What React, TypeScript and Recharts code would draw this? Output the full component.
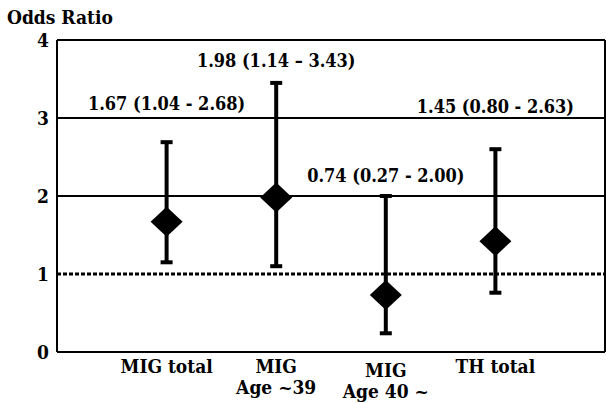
import React from "react"
import {
  ScatterChart,
  Scatter,
  XAxis,
  YAxis,
  ErrorBar,
  ReferenceLine,
} from "recharts"

// values
const categories = ["MIG total", "MIG\nAge ~39", "MIG\nAge 40 ~", "TH total"]
const oddsRatio = [1.67, 1.98, 0.73, 1.42]
const ciLow = [1.15, 1.1, 0.24, 0.76]
const ciHigh = [2.69, 3.45, 2.0, 2.6]
const ciText = [
  "1.67 (1.04 - 2.68)",
  "1.98 (1.14 – 3.43)",
  "0.74 (0.27 - 2.00)",
  "1.45 (0.80 - 2.63)",
]
const labelAt = [3.18, 3.74, 2.26, 3.15]
const yTicks = [0, 1, 2, 3, 4]
const xTicks = [1, 2, 3, 4]

const FONT = "'DejaVu Serif Condensed', 'DejaVu Serif'"

const points = categories.map((c, i) => ({
  x: i + 1,
  y: oddsRatio[i],
  err: [oddsRatio[i] - ciLow[i], ciHigh[i] - oddsRatio[i]],
}))

const labels = categories.map((c, i) => ({
  x: i + 1,
  y: labelAt[i],
  text: ciText[i],
}))

function Diamond(props: any) {
  const { cx, cy } = props
  if (cx == null || cy == null) return null
  return (
    <polygon
      points={`${cx},${cy - 15} ${cx + 16},${cy} ${cx},${cy + 15} ${cx - 16},${cy}`}
      fill="#000"
    />
  )
}

function CiLabel(props: any) {
  const { cx, cy, payload } = props
  if (cx == null || cy == null) return null
  return (
    <text
      x={cx}
      y={cy}
      textAnchor="middle"
      dominantBaseline="central"
      fontFamily={FONT}
      fontWeight="bold"
      fontSize={18}
      fill="#000"
    >
      {payload.text}
    </text>
  )
}

function CatTick(props: any) {
  const { x, y, payload } = props
  const idx = payload.value - 1
  const lines = (categories[idx] ?? "").split("\n")
  const shift = idx === 2 ? 4 : 0
  return (
    <g>
      {lines.map((l, i) => (
        <text
          key={i}
          x={x}
          y={y + 13 + shift + i * 21}
          textAnchor="middle"
          fontFamily={FONT}
          fontWeight="bold"
          fontSize={19}
          fill="#000"
        >
          {l}
        </text>
      ))}
    </g>
  )
}

export default function App() {
  return (
    <div
      style={{
        position: "absolute",
        left: 0,
        top: 0,
        width: 606,
        height: 403,
        background: "#fff",
      }}
    >
      <div
        style={{
          position: "absolute",
          left: 7,
          top: 5,
          fontFamily: FONT,
          fontWeight: "bold",
          fontSize: 19,
          color: "#000",
          lineHeight: "24px",
        }}
      >
        Odds Ratio
      </div>
      <ScatterChart
        width={606}
        height={403}
        margin={{ top: 40, right: 1, bottom: 0, left: 0 }}
      >
        <XAxis
          type="number"
          dataKey="x"
          domain={[0, 5]}
          ticks={xTicks}
          tick={<CatTick />}
          tickLine={false}
          axisLine={{ stroke: "#000", strokeWidth: 2 }}
          height={51}
          interval={0}
        />
        <YAxis
          type="number"
          dataKey="y"
          domain={[0, 4]}
          ticks={yTicks}
          tickLine={false}
          axisLine={{ stroke: "#000", strokeWidth: 2 }}
          width={57}
          tick={{
            fontFamily: FONT,
            fontWeight: "bold",
            fontSize: 19,
            fill: "#000",
          }}
        />
        <ReferenceLine y={4} stroke="#000" strokeWidth={2} />
        <ReferenceLine y={3} stroke="#000" strokeWidth={2} />
        <ReferenceLine y={2} stroke="#000" strokeWidth={2} />
        <ReferenceLine y={1} stroke="#000" strokeWidth={3} strokeDasharray="4 2" />
        <ReferenceLine x={5} stroke="#000" strokeWidth={2} />
        <Scatter data={points} shape={<Diamond />} isAnimationActive={false}>
          <ErrorBar
            dataKey="err"
            direction="y"
            width={6}
            strokeWidth={4}
            stroke="#000"
            isAnimationActive={false}
          />
        </Scatter>
        <Scatter data={labels} shape={<CiLabel />} isAnimationActive={false} />
      </ScatterChart>
    </div>
  )
}
